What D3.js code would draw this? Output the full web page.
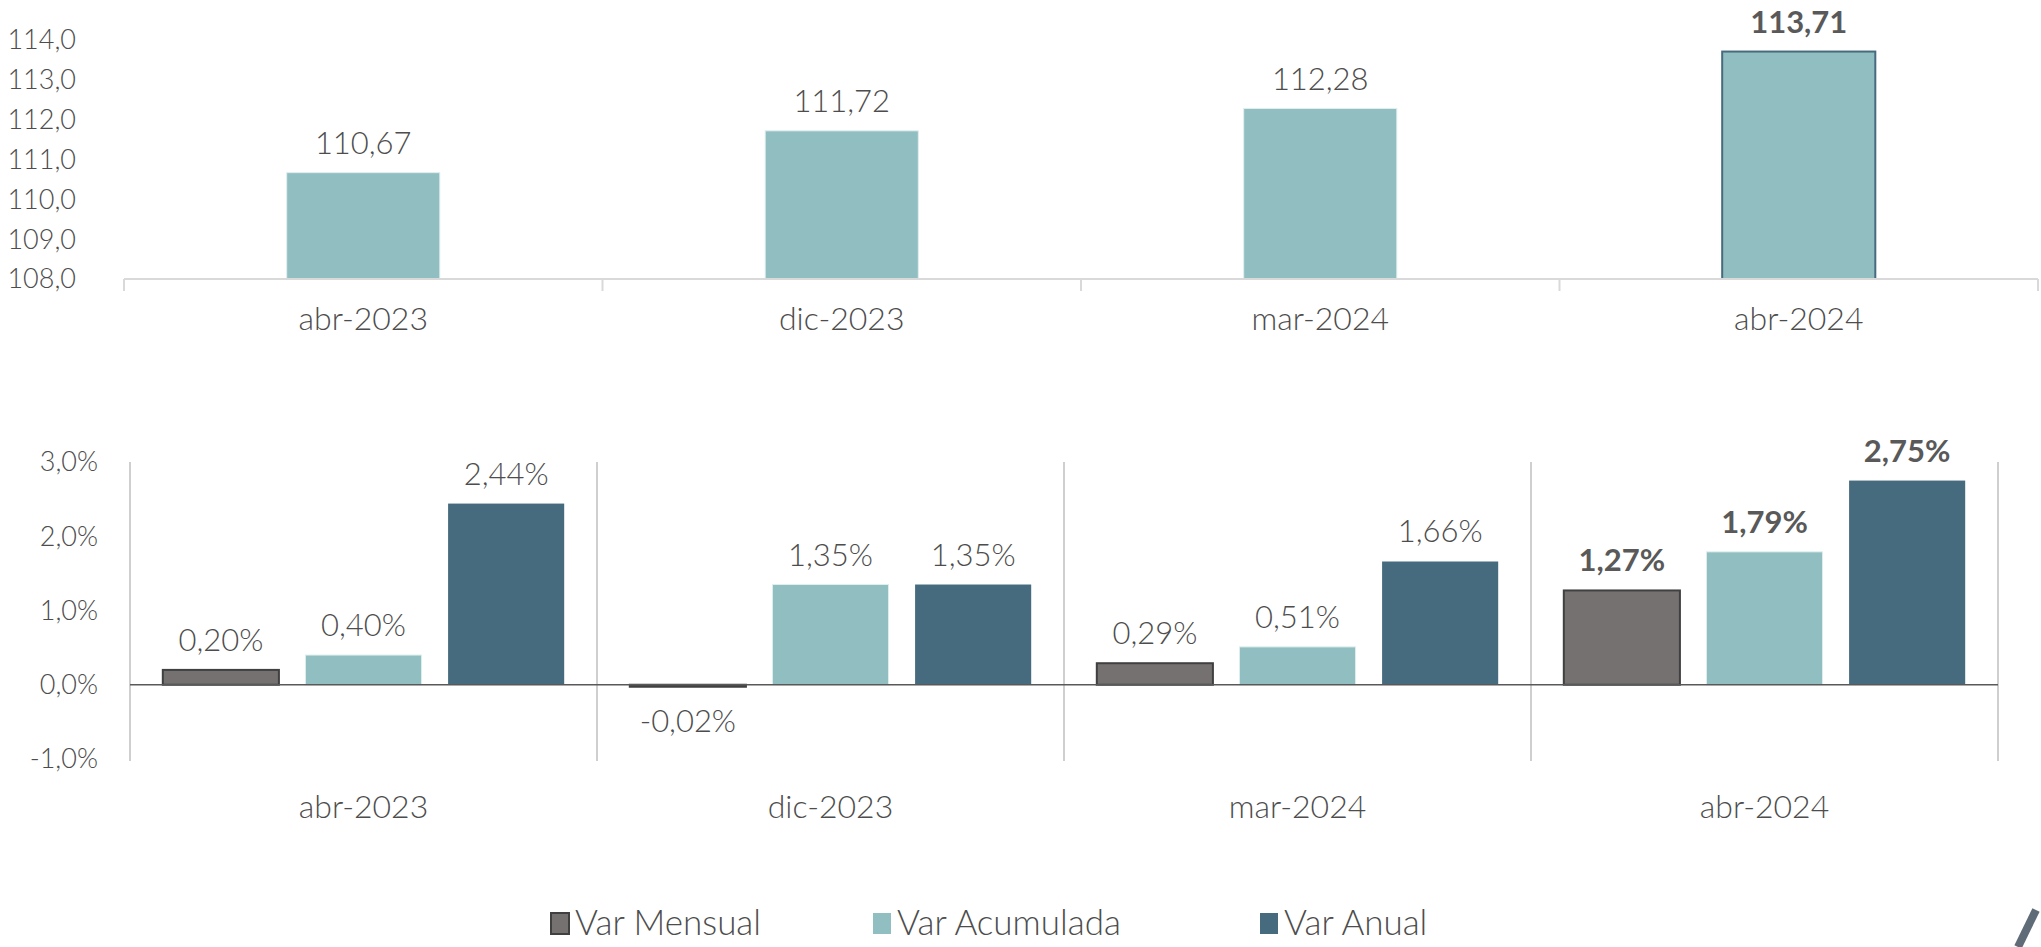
<!DOCTYPE html>
<html>
<head>
<meta charset="utf-8">
<script src="https://cdn.jsdelivr.net/npm/d3@7"></script>
<style>
  html, body { margin: 0; padding: 0; background: #fff; }
  svg { display: block; font-family: 'Lato', sans-serif; font-weight: 300; }
  .tick-label { fill: #4d4d4d; font-size: 27px; }
  .cat-label { fill: #4d4d4d; font-size: 32px; }
  .value { fill: #4d4d4d; font-size: 31px; }
  .value.bold { font-weight: bold; fill: #595959; }
  .legend text { fill: #4d4d4d; font-size: 35px; }
</style>
</head>
<body>
<div id="chart"></div>
<script>
const categories = ['abr-2023', 'dic-2023', 'mar-2024', 'abr-2024'];
const indexValues = [110.67, 111.72, 112.28, 113.71];
const indexTicks = [108, 109, 110, 111, 112, 113, 114];

const seriesNames = ['Var Mensual', 'Var Acumulada', 'Var Anual'];
const varMensual = [0.20, -0.02, 0.29, 1.27];
const varAcumulada = [0.40, 1.35, 0.51, 1.79];
const varAnual = [2.44, 1.35, 1.66, 2.75];
const pctTicks = [-1, 0, 1, 2, 3];

const colors = {
  'Var Mensual': '#767171',
  'Var Acumulada': '#91bec0',
  'Var Anual': '#476b7e'
};

const width = 2041;
const height = 947;

const locale = d3.formatLocale({ decimal: ',', thousands: '.', grouping: [3], currency: ['', ''], minus: '-' });
const f1 = locale.format('.1f');
const f2 = locale.format('.2f');

const svg = d3.select('#chart')
  .append('svg')
  .attr('width', width)
  .attr('height', height);

// ---- top chart: index ----
const xTop = d3.scaleBand().domain(categories).range([124, 2038]).paddingInner(0.68).paddingOuter(0.34);
const yTop = d3.scaleLinear().domain([108, 114]).range([279, 40]);

const topChart = svg.append('g');

topChart.selectAll('text.ytick')
  .data(indexTicks)
  .join('text')
  .attr('class', 'tick-label')
  .attr('x', 76)
  .attr('y', d => yTop(d))
  .attr('dy', '0.35em')
  .attr('text-anchor', 'end')
  .text(d => f1(d));

topChart.selectAll('rect.bar')
  .data(indexValues)
  .join('rect')
  .attr('x', (d, i) => xTop(categories[i]))
  .attr('y', d => yTop(d))
  .attr('width', xTop.bandwidth())
  .attr('height', d => yTop(108) - yTop(d))
  .attr('fill', '#91bec0')
  .attr('stroke', (d, i) => i == 3 ? '#476b7e' : '#dfeeee')
  .attr('stroke-width', (d, i) => i == 3 ? 2 : 1);

topChart.selectAll('text.val')
  .data(indexValues)
  .join('text')
  .attr('class', (d, i) => i == 3 ? 'value bold' : 'value')
  .attr('x', (d, i) => xTop(categories[i]) + xTop.bandwidth() / 2)
  .attr('y', d => yTop(d) - 19)
  .attr('text-anchor', 'middle')
  .text(d => f2(d));

// axis line + boundary ticks
const xTopEdges = d3.scaleLinear().domain([0, 4]).range([124, 2038]);
topChart.append('line')
  .attr('x1', xTopEdges(0)).attr('x2', xTopEdges(4))
  .attr('y1', yTop(108)).attr('y2', yTop(108))
  .attr('stroke', '#d9d9d9').attr('stroke-width', 2);
topChart.selectAll('line.edge')
  .data(d3.range(5))
  .join('line')
  .attr('x1', d => xTopEdges(d)).attr('x2', d => xTopEdges(d))
  .attr('y1', yTop(108)).attr('y2', yTop(108) + 12)
  .attr('stroke', '#d9d9d9').attr('stroke-width', 2);

topChart.selectAll('text.cat')
  .data(categories)
  .join('text')
  .attr('class', 'cat-label')
  .attr('x', d => xTop(d) + xTop.bandwidth() / 2)
  .attr('y', 330)
  .attr('text-anchor', 'middle')
  .text(d => d);

// ---- bottom chart: variations ----
const x0 = d3.scaleBand().domain(categories).range([130, 1998]).padding(0);
const x1 = d3.scaleBand().domain(seriesNames).range([0, x0.bandwidth()]).paddingInner(0.186).paddingOuter(0.23);
const yBot = d3.scaleLinear().domain([-1, 3]).range([759, 462]);

const bottom = svg.append('g');

bottom.selectAll('text.ytick')
  .data(pctTicks)
  .join('text')
  .attr('class', 'tick-label')
  .attr('x', 98)
  .attr('y', d => yBot(d))
  .attr('dy', '0.35em')
  .attr('text-anchor', 'end')
  .text(d => f1(d) + '%');

// category separators
bottom.selectAll('line.sep')
  .data(d3.range(5))
  .join('line')
  .attr('x1', d => 130 + d * x0.step()).attr('x2', d => 130 + d * x0.step())
  .attr('y1', yBot(3)).attr('y2', yBot(-1) + 2)
  .attr('stroke', '#bfbfbf').attr('stroke-width', 1.5);

const rows = [];
categories.forEach((c, i) => {
  rows.push({ cat: c, i: i, name: 'Var Mensual', value: varMensual[i] });
  rows.push({ cat: c, i: i, name: 'Var Acumulada', value: varAcumulada[i] });
  rows.push({ cat: c, i: i, name: 'Var Anual', value: varAnual[i] });
});

bottom.selectAll('rect.bar')
  .data(rows)
  .join('rect')
  .attr('x', d => x0(d.cat) + x1(d.name))
  .attr('y', d => yBot(Math.max(0, d.value)))
  .attr('width', x1.bandwidth())
  .attr('height', d => Math.max(2, Math.abs(yBot(d.value) - yBot(0))))
  .attr('fill', d => colors[d.name])
  .attr('stroke', d => d.name == 'Var Mensual' ? '#404040' : (d.name == 'Var Acumulada' ? '#dfeeee' : 'none'))
  .attr('stroke-width', d => d.name == 'Var Mensual' ? 2 : 1);

bottom.append('line')
  .attr('x1', 130).attr('x2', 1998)
  .attr('y1', yBot(0)).attr('y2', yBot(0))
  .attr('stroke', '#595959').attr('stroke-width', 1.5);

bottom.selectAll('text.val')
  .data(rows)
  .join('text')
  .attr('class', d => d.i == 3 ? 'value bold' : 'value')
  .attr('x', d => x0(d.cat) + x1(d.name) + x1.bandwidth() / 2)
  .attr('y', d => d.value < 0 ? yBot(0) + 47 : yBot(d.value) - 19)
  .attr('text-anchor', 'middle')
  .text(d => f2(d.value) + '%');

bottom.selectAll('text.cat')
  .data(categories)
  .join('text')
  .attr('class', 'cat-label')
  .attr('x', d => x0(d) + x0.bandwidth() / 2)
  .attr('y', 818)
  .attr('text-anchor', 'middle')
  .text(d => d);

// legend
const legendX = [551, 873, 1260];
const legend = svg.append('g').attr('class', 'legend');
const item = legend.selectAll('g')
  .data(seriesNames)
  .join('g')
  .attr('transform', (d, i) => 'translate(' + legendX[i] + ', 913)');

item.append('rect')
  .attr('x', 0).attr('y', 0)
  .attr('width', 18).attr('height', 21)
  .attr('fill', d => colors[d])
  .attr('stroke', d => d == 'Var Mensual' ? '#404040' : 'none')
  .attr('stroke-width', 2);

item.append('text')
  .attr('x', 24)
  .attr('y', 22)
  .text(d => d);

// corner decoration
svg.append('line')
  .attr('x1', 2036).attr('y1', 910)
  .attr('x2', 2018).attr('y2', 947)
  .attr('stroke', '#5f6b77')
  .attr('stroke-width', 8);
</script>
</body>
</html>
